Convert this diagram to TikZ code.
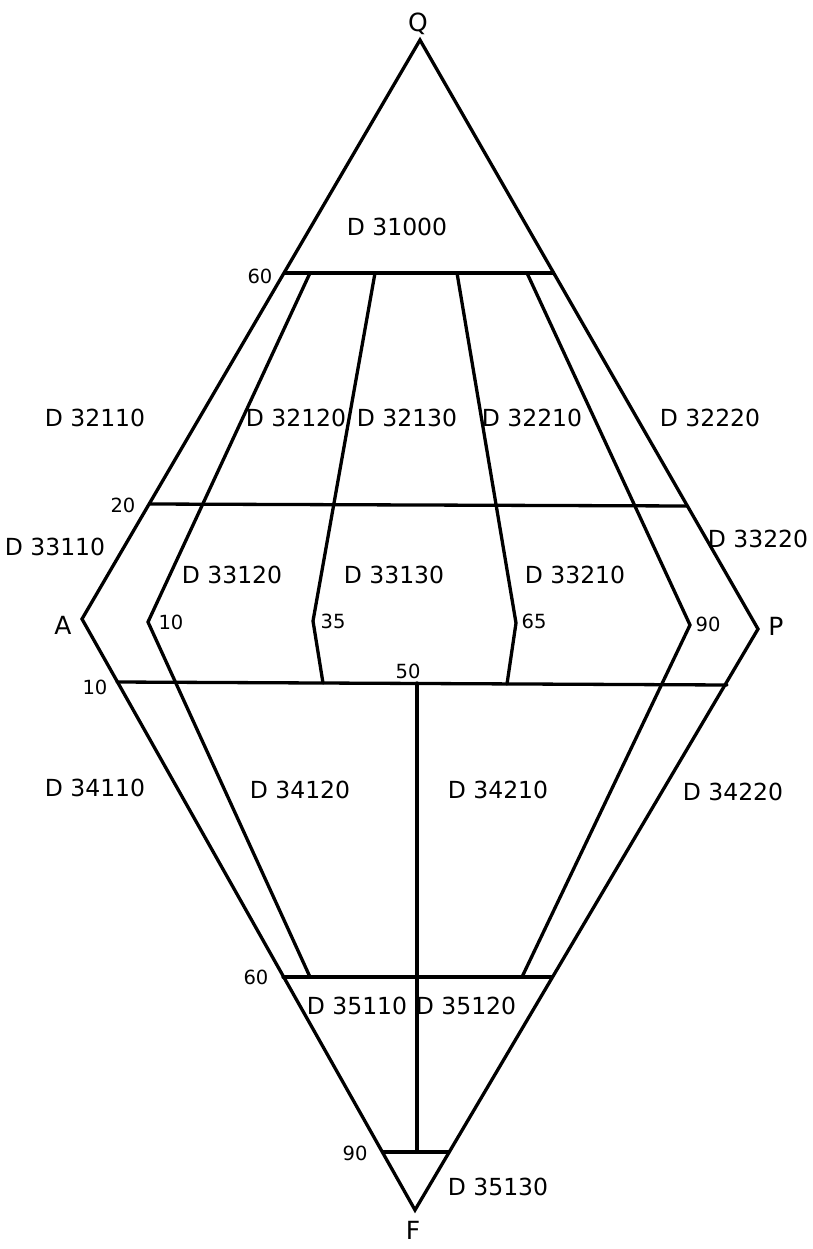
\documentclass[tikz,border=0pt]{standalone}
\usepackage{fontspec}
\setmainfont{DejaVu Sans}
\begin{document}
\begin{tikzpicture}[x=1pt,y=-1pt,
  edge/.style={line width=3.3pt, line join=miter, line cap=round},
  field/.style={font=\fontsize{23.5}{23.5}\selectfont, inner sep=0pt},
  tick/.style={font=\fontsize{19.5}{19.5}\selectfont, inner sep=0pt},
  apex/.style={font=\fontsize{25}{25}\selectfont, inner sep=0pt}]
\useasboundingbox[fill=white] (0,0) rectangle (813,1249);
% corners
\coordinate (Q) at (420,40);
\coordinate (A) at (82,619);
\coordinate (P) at (758,629);
\coordinate (F) at (415,1210);
% horizontal boundaries
\coordinate (t60L) at (285,273);  \coordinate (t60R) at (553,273);
\coordinate (t20L) at (150,504);  \coordinate (t20R) at (687,506);
\coordinate (b10L) at (117,682);  \coordinate (b10R) at (727,685);
\coordinate (b60L) at (283,977);  \coordinate (b60R) at (552,977);
\coordinate (b90L) at (383,1152); \coordinate (b90R) at (449,1152);
% inner boundaries
\coordinate (u1) at (310,273); \coordinate (p10) at (148,622); \coordinate (l1) at (310,977);
\coordinate (u2) at (375,273); \coordinate (p35) at (313,621); \coordinate (l2) at (323,683);
\coordinate (u3) at (457,273); \coordinate (p65) at (516,623); \coordinate (l3) at (507,684);
\coordinate (u4) at (527,273); \coordinate (p90) at (690,625); \coordinate (l4) at (522,977);
\coordinate (v50) at (417,683); \coordinate (vF) at (417,1152);

\draw[edge] (Q) -- (A) -- (F) -- (P) -- cycle;
\draw[edge] (t60L) -- (t60R);
\draw[edge] (t20L) -- (t20R);
\draw[edge] (b10L) -- (b10R);
\draw[edge] (b60L) -- (b60R);
\draw[edge] (b90L) -- (b90R);
\draw[edge] (u1) -- (p10) -- (l1);
\draw[edge] (u2) -- (p35) -- (l2);
\draw[edge] (u3) -- (p65) -- (l3);
\draw[edge] (u4) -- (p90) -- (l4);
\draw[edge] (v50) -- (vF);

% corner labels
\node[apex] (lQ) at (418,24) {Q};
\node[apex] (lA) at (63,625) {A};
\node[apex] (lP) at (776,626) {P};
\node[apex] (lF) at (413,1230) {F};

% tick labels
\node[tick] (n60t) at (260,276) {60};
\node[tick] (n20) at (123,505) {20};
\node[tick] (n10a) at (171,622) {10};
\node[tick] (n35) at (333,621) {35};
\node[tick] (n65) at (534,621) {65};
\node[tick] (n90a) at (708,624) {90};
\node[tick] (n10b) at (95,687) {10};
\node[tick] (n50) at (408,671) {50};
\node[tick] (n60b) at (256,977) {60};
\node[tick] (n90b) at (355,1153) {90};

% field labels
\node[field] (f31000) at (397,227) {D 31000};
\node[field] (f32110) at (95,418) {D 32110};
\node[field] (f32120) at (296,418) {D 32120};
\node[field] (f32130) at (407,418) {D 32130};
\node[field] (f32210) at (532,418) {D 32210};
\node[field] (f32220) at (710,418) {D 32220};
\node[field] (f33110) at (55,547) {D 33110};
\node[field] (f33220) at (758,539) {D 33220};
\node[field] (f33120) at (232,575) {D 33120};
\node[field] (f33130) at (394,575) {D 33130};
\node[field] (f33210) at (575,575) {D 33210};
\node[field] (f34110) at (95,788) {D 34110};
\node[field] (f34120) at (300,790) {D 34120};
\node[field] (f34210) at (498,790) {D 34210};
\node[field] (f34220) at (733,792) {D 34220};
\node[field] (f35110) at (357,1006) {D 35110};
\node[field] (f35120) at (466,1006) {D 35120};
\node[field] (f35130) at (498,1187) {D 35130};
\end{tikzpicture}
\end{document}
